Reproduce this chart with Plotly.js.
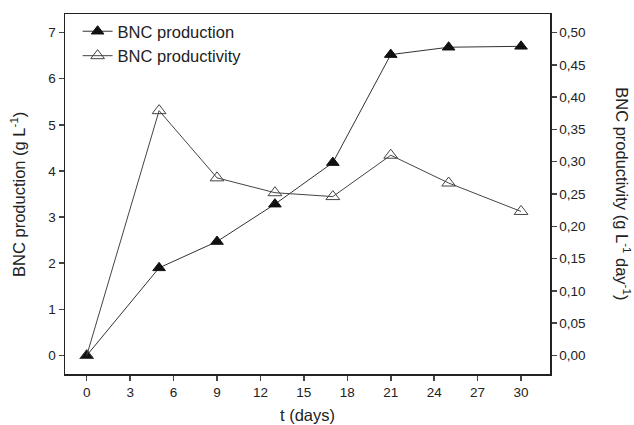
<!DOCTYPE html>
<html><head><meta charset="utf-8">
<script src="https://cdn.plot.ly/plotly-3.0.1.min.js"></script>
<style>html,body{margin:0;padding:0;background:#fff}#c{width:634px;height:425px}</style>
</head><body><div id="c"></div>
<script>
const days = [0, 5, 9, 13, 17, 21, 25, 30];
const production = [0, 1.9, 2.47, 3.28, 4.18, 6.52, 6.68, 6.7];
const productivity = [0, 0.379, 0.275, 0.252, 0.246, 0.31, 0.267, 0.223];
const xTicks = [0, 3, 6, 9, 12, 15, 18, 21, 24, 27, 30];

const font = {family: 'Liberation Sans, Arial, sans-serif', color: '#222'};
const traces = [
  {x: days, y: production, name: 'BNC production', type: 'scatter', mode: 'lines+markers',
   line: {color: '#333', width: 1}, marker: {symbol: 'triangle-up', size: 11, color: '#111', line: {color: '#111', width: 1}}},
  {x: days, y: productivity, name: 'BNC productivity', type: 'scatter', mode: 'lines+markers', yaxis: 'y2',
   line: {color: '#444', width: 1}, marker: {symbol: 'triangle-up-open', size: 12, color: '#444', line: {color: '#444', width: 1}}}
];
const layout = {
  width: 634, height: 425,
  margin: {l: 65, r: 84, t: 14, b: 51},
  separators: ',.',
  paper_bgcolor: '#fff', plot_bgcolor: '#fff',
  font: Object.assign({size: 13}, font),
  showlegend: true,
  legend: {x: 0.026, y: 1.0, xanchor: 'left', yanchor: 'top', bgcolor: 'rgba(0,0,0,0)',
           font: Object.assign({size: 16.5}, font), tracegroupgap: 0, itemwidth: 30},
  xaxis: {range: [-1.5, 32], tickvals: xTicks, ticks: 'outside', ticklen: 5, tickwidth: 1.5,
          showline: true, linewidth: 1.5, linecolor: '#222', mirror: true, showgrid: false, zeroline: false,
          tickfont: Object.assign({size: 13.5}, font)},
  yaxis: {range: [-0.4, 7.4], dtick: 1, ticks: 'outside', ticklen: 5, tickwidth: 1.5,
          showline: true, linewidth: 1.5, linecolor: '#222', mirror: true, showgrid: false, zeroline: false,
          tickformat: 'd', tickfont: Object.assign({size: 13.5}, font)},
  yaxis2: {overlaying: 'y', side: 'right', range: [-0.4/14, 7.4/14], dtick: 0.05, tickformat: '.2f',
           ticks: 'outside', ticklen: 5, tickwidth: 1.5, showline: true, linewidth: 1.5, linecolor: '#222',
           showgrid: false, zeroline: false, tickfont: Object.assign({size: 13.5}, font)},
  annotations: [
    {text: 't (days)', xref: 'paper', yref: 'paper', x: 0.5, y: -0.083, xanchor: 'center', yanchor: 'top',
     showarrow: false, font: Object.assign({size: 16.5}, font)},
    {text: 'BNC production (g L<sup>-1</sup>)', xref: 'paper', yref: 'paper', x: -0.097, y: 0.5,
     xanchor: 'center', yanchor: 'middle', textangle: -90, showarrow: false, font: Object.assign({size: 16.5}, font)},
    {text: 'BNC productivity (g L<sup>-1</sup> day<sup>-1</sup>)', xref: 'paper', yref: 'paper', x: 1.15, y: 0.5,
     xanchor: 'center', yanchor: 'middle', textangle: 90, showarrow: false, font: Object.assign({size: 16.5}, font)}
  ]
};
Plotly.newPlot('c', traces, layout, {displayModeBar: false, staticPlot: true});
</script></body></html>
